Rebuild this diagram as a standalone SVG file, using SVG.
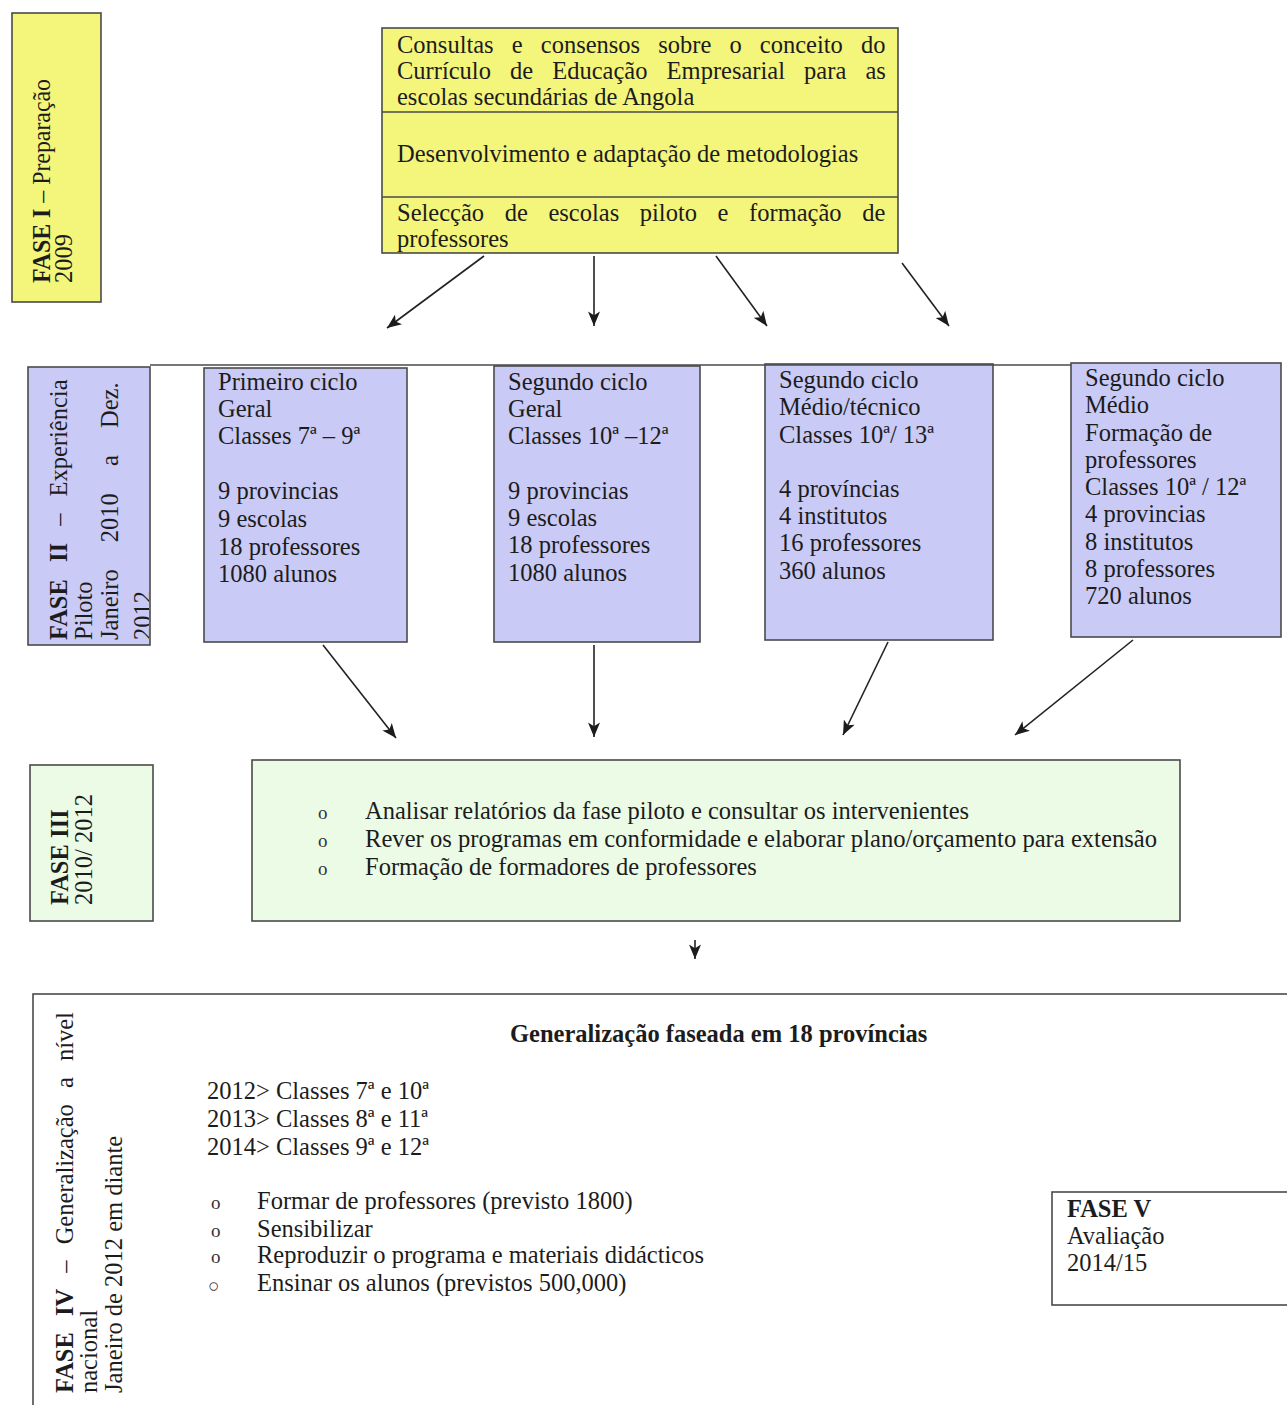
<svg xmlns="http://www.w3.org/2000/svg" width="1287" height="1405" viewBox="0 0 1287 1405">
<style>
.t{font-family:"Liberation Serif","Times New Roman",serif;fill:#1c1c1c;font-size:24.5px}
.b{font-weight:bold}
.box{stroke:#4a4a4a;stroke-width:1.6}
.yel{fill:#f4f57b}
.lav{fill:#c9caf6}
.grn{fill:#ecfbe6}
.wht{fill:#ffffff}
.div{stroke:#4a4a4a;stroke-width:1.6}
.conn{stroke:#222;stroke-width:1.6;fill:none;marker-end:url(#ah)}
.bul{font-family:"Liberation Serif","Times New Roman",serif;fill:#333;font-size:19px}
</style>
<defs>
<marker id="ah" viewBox="0 0 12 10" refX="12" refY="5" markerWidth="15" markerHeight="12" markerUnits="userSpaceOnUse" orient="auto">
<path d="M0,0 L12,5 L0,10 L3,5 z" fill="#1c1c1c"/>
</marker>
<clipPath id="c2"><rect x="28" y="367" width="121" height="278"/></clipPath>
</defs>
<rect width="1287" height="1405" fill="#ffffff"/>

<g id="fase1">
<rect class="yel box" x="12" y="13" width="89" height="289"/>
<text class="t" font-size="22" transform="translate(50,283) rotate(-90)" textLength="204" lengthAdjust="spacingAndGlyphs"><tspan class="b">FASE I</tspan> – Preparação</text>
<text class="t" font-size="22" transform="translate(72,283) rotate(-90)">2009</text>
</g>

<g id="prep">
<rect class="yel box" x="382" y="28" width="516" height="225"/>
<line class="div" x1="382" y1="112" x2="898" y2="112"/>
<line class="div" x1="382" y1="197" x2="898" y2="197"/>
<text class="t" x="397" y="53" style="word-spacing:12px">Consultas e consensos sobre o conceito do</text>
<text class="t" x="397" y="79" style="word-spacing:13px">Currículo de Educação Empresarial para as</text>
<text class="t" x="397" y="105">escolas secundárias de Angola</text>
<text class="t" x="397" y="162">Desenvolvimento e adaptação de metodologias</text>
<text class="t" x="397" y="221" style="word-spacing:14.5px">Selecção de escolas piloto e formação de</text>
<text class="t" x="397" y="247">professores</text>
</g>

<g id="fase2">
<rect class="lav box" x="28" y="367" width="122" height="278"/>
<g clip-path="url(#c2)">
<text class="t" font-size="22" transform="translate(67,640) rotate(-90)" style="word-spacing:11px"><tspan class="b">FASE II</tspan> – Experiência</text>
<text class="t" font-size="22" transform="translate(92,640) rotate(-90)">Piloto</text>
<text class="t" font-size="22" transform="translate(118,640) rotate(-90)" style="word-spacing:21px">Janeiro 2010 a Dez.</text>
<text class="t" font-size="22" transform="translate(151,640) rotate(-90)">2012</text>
</g>
</g>

<g id="ciclo1">
<rect class="lav box" x="204" y="368" width="203" height="274"/>
<text class="t" x="218" y="390">Primeiro ciclo</text>
<text class="t" x="218" y="417">Geral</text>
<text class="t" x="218" y="444">Classes 7ª – 9ª</text>
<text class="t" x="218" y="499">9 provincias</text>
<text class="t" x="218" y="527">9 escolas</text>
<text class="t" x="218" y="555">18 professores</text>
<text class="t" x="218" y="582">1080 alunos</text>
</g>

<g id="ciclo2">
<rect class="lav box" x="494" y="366" width="206" height="276"/>
<text class="t" x="508" y="390">Segundo ciclo</text>
<text class="t" x="508" y="417">Geral</text>
<text class="t" x="508" y="444">Classes 10ª –12ª</text>
<text class="t" x="508" y="499">9 provincias</text>
<text class="t" x="508" y="526">9 escolas</text>
<text class="t" x="508" y="553">18 professores</text>
<text class="t" x="508" y="581">1080 alunos</text>
</g>

<g id="ciclo3">
<rect class="lav box" x="765" y="364" width="228" height="276"/>
<text class="t" x="779" y="388">Segundo ciclo</text>
<text class="t" x="779" y="415">Médio/técnico</text>
<text class="t" x="779" y="443">Classes 10ª/ 13ª</text>
<text class="t" x="779" y="497">4 províncias</text>
<text class="t" x="779" y="524">4 institutos</text>
<text class="t" x="779" y="551">16 professores</text>
<text class="t" x="779" y="579">360 alunos</text>
</g>

<g id="ciclo4">
<rect class="lav box" x="1071" y="363" width="210" height="274"/>
<text class="t" x="1085" y="386">Segundo ciclo</text>
<text class="t" x="1085" y="413">Médio</text>
<text class="t" x="1085" y="441">Formação de</text>
<text class="t" x="1085" y="468">professores</text>
<text class="t" x="1085" y="495">Classes 10ª / 12ª</text>
<text class="t" x="1085" y="522">4 provincias</text>
<text class="t" x="1085" y="550">8 institutos</text>
<text class="t" x="1085" y="577">8 professores</text>
<text class="t" x="1085" y="604">720 alunos</text>
</g>

<g id="fase3">
<rect class="grn box" x="30" y="765" width="123" height="156"/>
<text class="t b" font-size="22" transform="translate(68,905) rotate(-90)">FASE III</text>
<text class="t" font-size="22" transform="translate(92,905) rotate(-90)">2010/ 2012</text>
</g>

<g id="analise">
<rect class="grn box" x="252" y="760" width="928" height="161"/>
<text class="bul" x="318" y="819">o</text>
<text class="bul" x="318" y="847">o</text>
<text class="bul" x="318" y="875">o</text>
<text class="t" x="365" y="819">Analisar relatórios da fase piloto e consultar os intervenientes</text>
<text class="t" x="365" y="847" textLength="792" lengthAdjust="spacingAndGlyphs">Rever os programas em conformidade e elaborar plano/orçamento para extensão</text>
<text class="t" x="365" y="875">Formação de formadores de professores</text>
</g>

<g id="fase4">
<rect class="wht box" x="33" y="994" width="1270" height="430"/>
<text class="t" font-size="24" transform="translate(73,1393) rotate(-90)" style="word-spacing:10px"><tspan class="b">FASE IV</tspan> – Generalização a nível</text>
<text class="t" font-size="24" transform="translate(97,1393) rotate(-90)">nacional</text>
<text class="t" font-size="24" transform="translate(122,1393) rotate(-90)">Janeiro de 2012 em diante</text>
<text class="t b" x="510" y="1042">Generalização faseada em 18 províncias</text>
<text class="t" x="207" y="1099" font-size="22">2012&gt; Classes 7ª e 10ª</text>
<text class="t" x="207" y="1127" font-size="22">2013&gt; Classes 8ª e 11ª</text>
<text class="t" x="207" y="1155" font-size="22">2014&gt; Classes 9ª e 12ª</text>
<text class="bul" x="211" y="1209">o</text>
<text class="bul" x="211" y="1237">o</text>
<text class="bul" x="211" y="1263">o</text>
<text class="bul" x="208" y="1292" font-size="27">○</text>
<text class="t" x="257" y="1209">Formar de professores (previsto 1800)</text>
<text class="t" x="257" y="1237">Sensibilizar</text>
<text class="t" x="257" y="1263">Reproduzir o programa e materiais didácticos</text>
<text class="t" x="257" y="1291">Ensinar os alunos (previstos 500,000)</text>
</g>

<g id="fase5">
<rect class="wht box" x="1052" y="1192" width="250" height="113"/>
<text class="t b" x="1067" y="1217" font-size="23">FASE V</text>
<text class="t" x="1067" y="1244" font-size="23">Avaliação</text>
<text class="t" x="1067" y="1271" font-size="23">2014/15</text>
</g>

<g id="connectors">
<line class="div" x1="150" y1="365" x2="1071" y2="365"/>
<line class="conn" x1="484" y1="256" x2="387" y2="328"/>
<line class="conn" x1="594" y1="256" x2="594" y2="326"/>
<line class="conn" x1="716" y1="256" x2="767" y2="326"/>
<line class="conn" x1="902" y1="263" x2="949" y2="326"/>
<line class="conn" x1="323" y1="645" x2="396" y2="738"/>
<line class="conn" x1="594" y1="645" x2="594" y2="737"/>
<line class="conn" x1="888" y1="642" x2="843" y2="735"/>
<line class="conn" x1="1133" y1="640" x2="1015" y2="735"/>
<line class="conn" x1="695" y1="940" x2="695" y2="959"/>
</g>
</svg>
